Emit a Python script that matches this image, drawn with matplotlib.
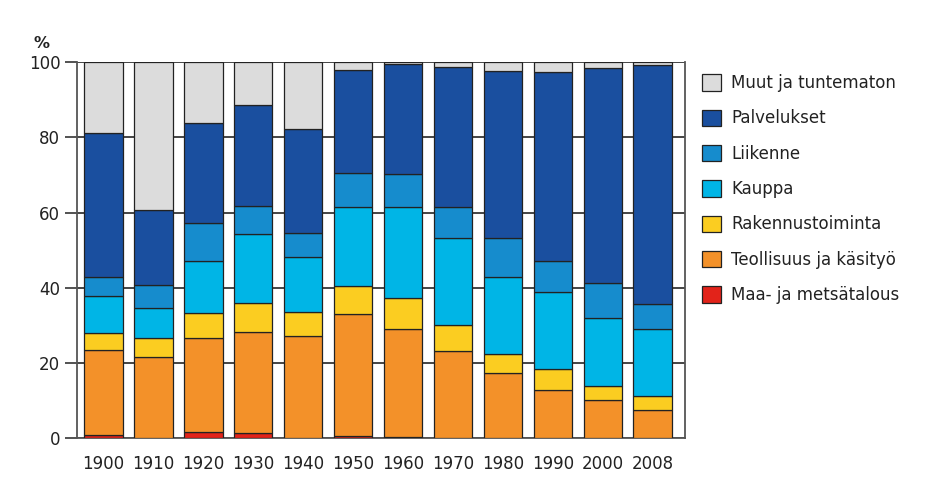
import matplotlib.pyplot as plt
import numpy as np

years = ["1900", "1910", "1920", "1930", "1940", "1950", "1960",
         "1970", "1980", "1990", "2000", "2008"]

maa = [1.0, 0.1, 1.8, 1.5, 0.1, 0.6, 0.3, 0.1, 0.1, 0.1, 0.1, 0.1]
teollisuus = [22.5, 21.5, 25.0, 26.7, 27.2, 32.4, 28.7, 23.1, 17.4, 12.8, 10.1, 7.5]
rakennus = [4.6, 5.2, 6.4, 7.9, 6.4, 7.5, 8.4, 6.9, 4.9, 5.5, 3.8, 3.8]
kauppa = [9.7, 7.8, 14.0, 18.1, 14.4, 21.1, 24.2, 23.1, 20.6, 20.4, 17.9, 17.6]
liikenne = [5.2, 6.2, 10.1, 7.6, 6.4, 9.0, 8.6, 8.4, 10.3, 8.3, 9.3, 6.6]
palvelukset = [38.2, 19.9, 26.6, 26.8, 27.6, 27.4, 29.2, 37.0, 44.4, 50.2, 57.1, 63.6]
muut = [18.8, 39.3, 16.1, 11.4, 17.9, 2.0, 0.6, 1.4, 2.3, 2.7, 1.7, 0.8]

series = [
    ("Maa- ja metsätalous", maa, "#e2231a"),
    ("Teollisuus ja käsityö", teollisuus, "#f39129"),
    ("Rakennustoiminta", rakennus, "#fbcd21"),
    ("Kauppa", kauppa, "#00b5e6"),
    ("Liikenne", liikenne, "#168ccd"),
    ("Palvelukset", palvelukset, "#1a4f9f"),
    ("Muut ja tuntematon", muut, "#dcdcdc"),
]

fig = plt.figure(figsize=(9.27, 5.01), dpi=100)
ax = fig.add_axes([0.0831, 0.1248, 0.656, 0.7514])

x = np.arange(len(years))
bottom = np.zeros(len(years))
handles = []
for name, vals, col in series:
    b = ax.bar(x, vals, 0.77, bottom=bottom, color=col, edgecolor="#222222",
               linewidth=0.9, label=name, zorder=3)
    handles.append(b)
    bottom += np.array(vals)

ax.set_ylim(0, 100)
ax.set_xlim(-0.53, 11.65)
ax.set_yticks([0, 20, 40, 60, 80, 100])
ax.set_xticks(x)
ax.set_xticklabels(years)
ax.tick_params(axis="x", length=0, pad=12, labelsize=12, labelcolor="#222222")
ax.tick_params(axis="y", length=9, width=1.3, pad=3, labelsize=12,
               labelcolor="#222222", color="#444444")
ax.yaxis.grid(True, color="#444444", linewidth=1.4, zorder=0)
for s in ax.spines.values():
    s.set_color("#555555")
    s.set_linewidth(1.3)
ax.spines["top"].set_visible(False)

fig.text(0.036, 0.905, "%", fontsize=11.5, fontweight="bold", color="#222222")

leg = fig.legend(handles[::-1], [s[0] for s in series][::-1],
                 loc="upper left", bbox_to_anchor=(0.757, 0.852),
                 frameon=False, fontsize=12, handlelength=1.15,
                 handleheight=1.15, labelspacing=1.04, handletextpad=0.6,
                 borderpad=0, borderaxespad=0)
for t in leg.get_texts():
    t.set_color("#222222")

fig.savefig("out.png", dpi=100)
